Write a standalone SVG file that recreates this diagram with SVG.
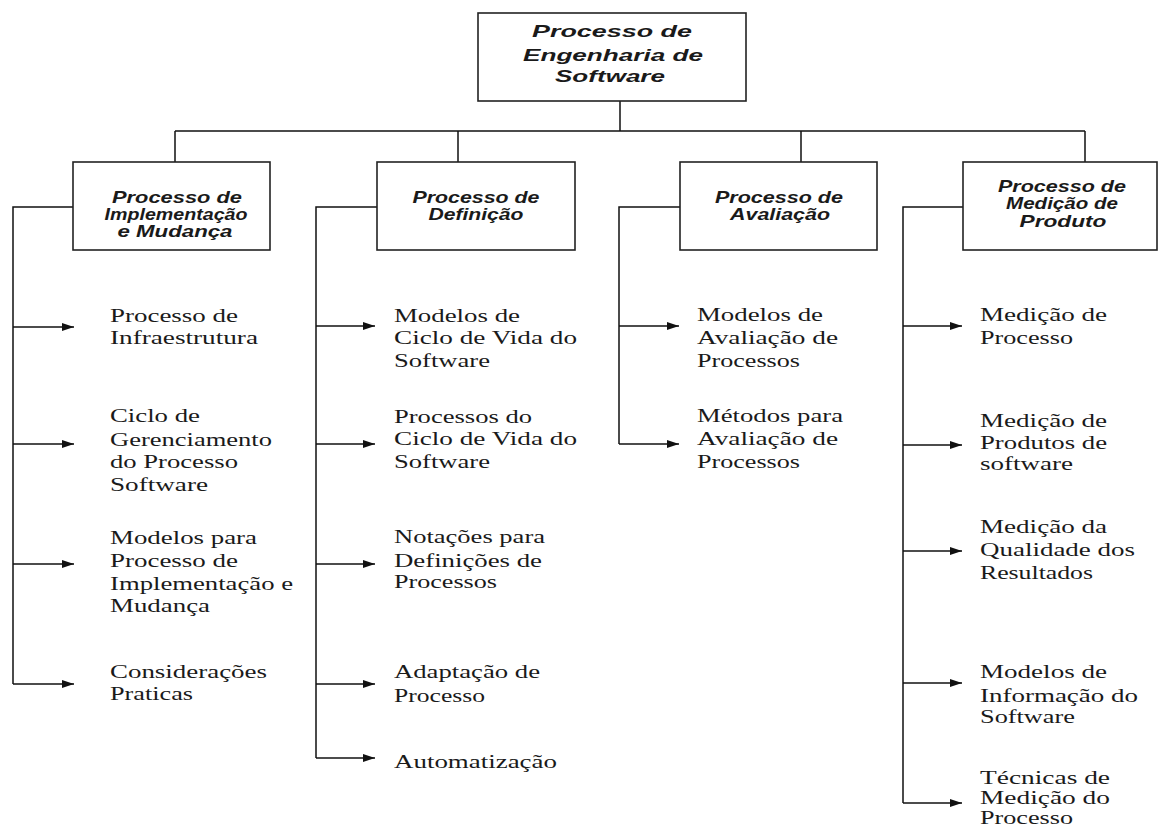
<svg xmlns="http://www.w3.org/2000/svg" width="1158" height="829" viewBox="0 0 1158 829">
<defs>
<style>
.box{fill:#fff;stroke:#222;stroke-width:1.6}
.ln{fill:none;stroke:#111;stroke-width:1.5}
.h{font-family:"Liberation Sans",Arial,sans-serif;font-weight:bold;font-style:italic;font-size:16.5px;fill:#1a1a1a}
.t{font-family:"Liberation Serif","Times New Roman",serif;font-size:19px;fill:#1a1a1a}
</style>
<marker id="ah" viewBox="0 0 12 8" refX="12" refY="4" markerWidth="12" markerHeight="8" markerUnits="userSpaceOnUse" orient="auto">
<path d="M0,0 L12,4 L0,8 z" fill="#111"/>
</marker>
</defs>
<rect width="1158" height="829" fill="#fff"/>

<g id="connectors">
<path class="ln" d="M620,101 V131 M175,131 H1085 M175,131 V162 M458,131 V162 M801,131 V162 M1085,131 V162"/>
<path class="ln" d="M73,207 H13 V684 M377,207 H316 V758 M680,207 H619 V444 M963,207 H903 V803"/>
<g marker-end="url(#ah)">
<path class="ln" d="M13,327 H74"/>
<path class="ln" d="M13,444 H74"/>
<path class="ln" d="M13,564 H74"/>
<path class="ln" d="M13,684 H74"/>
<path class="ln" d="M316,326 H375"/>
<path class="ln" d="M316,444 H375"/>
<path class="ln" d="M316,564 H375"/>
<path class="ln" d="M316,684 H375"/>
<path class="ln" d="M316,758 H375"/>
<path class="ln" d="M619,326 H679"/>
<path class="ln" d="M619,444 H679"/>
<path class="ln" d="M903,326 H962"/>
<path class="ln" d="M903,445 H962"/>
<path class="ln" d="M903,551 H962"/>
<path class="ln" d="M903,683 H962"/>
<path class="ln" d="M903,803 H962"/>
</g>
</g>

<g id="root">
<rect class="box" x="478" y="13" width="268" height="88"/>
<text class="h" font-size="17.5" text-anchor="middle" x="612" y="37" textLength="160" lengthAdjust="spacingAndGlyphs">Processo de</text>
<text class="h" font-size="17.5" text-anchor="middle" x="613" y="61" textLength="180" lengthAdjust="spacingAndGlyphs">Engenharia de</text>
<text class="h" font-size="17.5" text-anchor="middle" x="610" y="82" textLength="110" lengthAdjust="spacingAndGlyphs">Software</text>
</g>

<g id="h1">
<rect class="box" x="73" y="162" width="197" height="88"/>
<text class="h" text-anchor="middle" x="177" y="203" textLength="130" lengthAdjust="spacingAndGlyphs">Processo de</text>
<text class="h" text-anchor="middle" x="176" y="220" textLength="143" lengthAdjust="spacingAndGlyphs">Implementação</text>
<text class="h" text-anchor="middle" x="175" y="237" textLength="115" lengthAdjust="spacingAndGlyphs">e Mudança</text>
</g>

<g id="h2">
<rect class="box" x="377" y="162" width="198" height="88"/>
<text class="h" text-anchor="middle" x="476" y="203" textLength="127" lengthAdjust="spacingAndGlyphs">Processo de</text>
<text class="h" text-anchor="middle" x="476" y="220" textLength="95" lengthAdjust="spacingAndGlyphs">Definição</text>
</g>

<g id="h3">
<rect class="box" x="680" y="162" width="197" height="88"/>
<text class="h" text-anchor="middle" x="779" y="203" textLength="128" lengthAdjust="spacingAndGlyphs">Processo de</text>
<text class="h" text-anchor="middle" x="780" y="220" textLength="100" lengthAdjust="spacingAndGlyphs">Avaliação</text>
</g>

<g id="h4">
<rect class="box" x="963" y="162" width="194" height="88"/>
<text class="h" text-anchor="middle" x="1062" y="192" textLength="128" lengthAdjust="spacingAndGlyphs">Processo de</text>
<text class="h" text-anchor="middle" x="1062" y="209" textLength="112" lengthAdjust="spacingAndGlyphs">Medição de</text>
<text class="h" text-anchor="middle" x="1063" y="227" textLength="87" lengthAdjust="spacingAndGlyphs">Produto</text>
</g>

<g id="c1-1"><text class="t"><tspan x="110" y="322" textLength="128" lengthAdjust="spacingAndGlyphs">Processo de</tspan><tspan x="110" y="344" textLength="148" lengthAdjust="spacingAndGlyphs">Infraestrutura</tspan></text></g>
<g id="c1-2"><text class="t"><tspan x="110" y="422" textLength="90" lengthAdjust="spacingAndGlyphs">Ciclo de</tspan><tspan x="110" y="446" textLength="162" lengthAdjust="spacingAndGlyphs">Gerenciamento</tspan><tspan x="110" y="468" textLength="128" lengthAdjust="spacingAndGlyphs">do Processo</tspan><tspan x="110" y="491" textLength="98" lengthAdjust="spacingAndGlyphs">Software</tspan></text></g>
<g id="c1-3"><text class="t"><tspan x="110" y="544" textLength="147" lengthAdjust="spacingAndGlyphs">Modelos para</tspan><tspan x="110" y="567" textLength="128" lengthAdjust="spacingAndGlyphs">Processo de</tspan><tspan x="110" y="590" textLength="183" lengthAdjust="spacingAndGlyphs">Implementação e</tspan><tspan x="110" y="612" textLength="100" lengthAdjust="spacingAndGlyphs">Mudança</tspan></text></g>
<g id="c1-4"><text class="t"><tspan x="110" y="678" textLength="157" lengthAdjust="spacingAndGlyphs">Considerações</tspan><tspan x="110" y="700" textLength="83" lengthAdjust="spacingAndGlyphs">Praticas</tspan></text></g>

<g id="c2-1"><text class="t"><tspan x="394" y="322" textLength="126" lengthAdjust="spacingAndGlyphs">Modelos de</tspan><tspan x="394" y="344" textLength="183" lengthAdjust="spacingAndGlyphs">Ciclo de Vida do</tspan><tspan x="394" y="367" textLength="96" lengthAdjust="spacingAndGlyphs">Software</tspan></text></g>
<g id="c2-2"><text class="t"><tspan x="394" y="423" textLength="138" lengthAdjust="spacingAndGlyphs">Processos do</tspan><tspan x="394" y="445" textLength="183" lengthAdjust="spacingAndGlyphs">Ciclo de Vida do</tspan><tspan x="394" y="468" textLength="96" lengthAdjust="spacingAndGlyphs">Software</tspan></text></g>
<g id="c2-3"><text class="t"><tspan x="394" y="543" textLength="151" lengthAdjust="spacingAndGlyphs">Notações para</tspan><tspan x="394" y="567" textLength="148" lengthAdjust="spacingAndGlyphs">Definições de</tspan><tspan x="394" y="588" textLength="103" lengthAdjust="spacingAndGlyphs">Processos</tspan></text></g>
<g id="c2-4"><text class="t"><tspan x="394" y="678" textLength="146" lengthAdjust="spacingAndGlyphs">Adaptação de</tspan><tspan x="394" y="702" textLength="91" lengthAdjust="spacingAndGlyphs">Processo</tspan></text></g>
<g id="c2-5"><text class="t"><tspan x="394" y="768" textLength="163" lengthAdjust="spacingAndGlyphs">Automatização</tspan></text></g>

<g id="c3-1"><text class="t"><tspan x="697" y="321" textLength="126" lengthAdjust="spacingAndGlyphs">Modelos de</tspan><tspan x="697" y="344" textLength="141" lengthAdjust="spacingAndGlyphs">Avaliação de</tspan><tspan x="697" y="367" textLength="103" lengthAdjust="spacingAndGlyphs">Processos</tspan></text></g>
<g id="c3-2"><text class="t"><tspan x="697" y="422" textLength="146" lengthAdjust="spacingAndGlyphs">Métodos para</tspan><tspan x="697" y="445" textLength="141" lengthAdjust="spacingAndGlyphs">Avaliação de</tspan><tspan x="697" y="468" textLength="103" lengthAdjust="spacingAndGlyphs">Processos</tspan></text></g>

<g id="c4-1"><text class="t"><tspan x="980" y="321" textLength="127" lengthAdjust="spacingAndGlyphs">Medição de</tspan><tspan x="980" y="344" textLength="93" lengthAdjust="spacingAndGlyphs">Processo</tspan></text></g>
<g id="c4-2"><text class="t"><tspan x="980" y="427" textLength="127" lengthAdjust="spacingAndGlyphs">Medição de</tspan><tspan x="980" y="449" textLength="127" lengthAdjust="spacingAndGlyphs">Produtos de</tspan><tspan x="980" y="470" textLength="93" lengthAdjust="spacingAndGlyphs">software</tspan></text></g>
<g id="c4-3"><text class="t"><tspan x="980" y="533" textLength="127" lengthAdjust="spacingAndGlyphs">Medição da</tspan><tspan x="980" y="556" textLength="155" lengthAdjust="spacingAndGlyphs">Qualidade dos</tspan><tspan x="980" y="579" textLength="113" lengthAdjust="spacingAndGlyphs">Resultados</tspan></text></g>
<g id="c4-4"><text class="t"><tspan x="980" y="678" textLength="127" lengthAdjust="spacingAndGlyphs">Modelos de</tspan><tspan x="980" y="702" textLength="158" lengthAdjust="spacingAndGlyphs">Informação do</tspan><tspan x="980" y="723" textLength="95" lengthAdjust="spacingAndGlyphs">Software</tspan></text></g>
<g id="c4-5"><text class="t" font-size="17"><tspan x="980" y="784" textLength="130" lengthAdjust="spacingAndGlyphs">Técnicas de</tspan><tspan x="980" y="804" textLength="130" lengthAdjust="spacingAndGlyphs">Medição do</tspan><tspan x="980" y="824" textLength="93" lengthAdjust="spacingAndGlyphs">Processo</tspan></text></g>
</svg>
